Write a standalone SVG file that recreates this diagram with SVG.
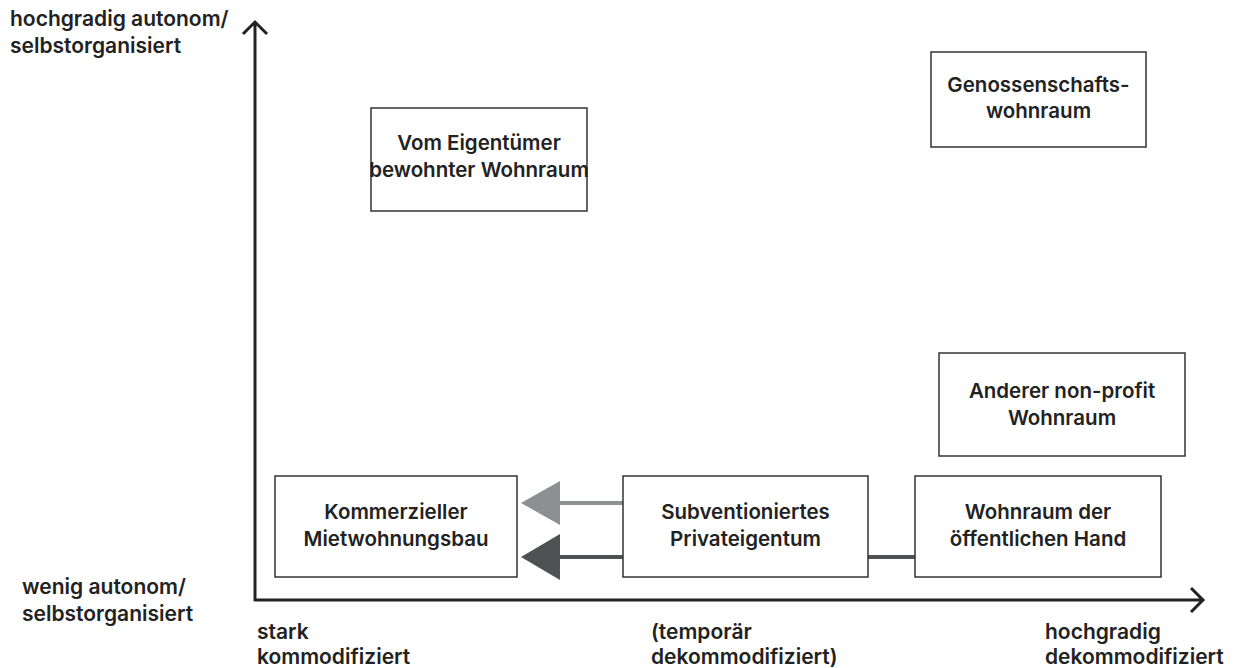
<svg xmlns="http://www.w3.org/2000/svg" width="1236" height="668" viewBox="0 0 1236 668">
<style>
text{font-family:Inter,"Liberation Sans",sans-serif;font-weight:600;font-size:20.5px;fill:#222}
.ax{font-size:21px}
.box{fill:#fff;stroke:#333;stroke-width:1.5}
.c{text-anchor:middle}
.axis{stroke:#222;stroke-width:3;fill:none}
</style>
<defs>
<marker id="hl" viewBox="0 0 39 44" refX="0" refY="22" markerWidth="39" markerHeight="44" markerUnits="userSpaceOnUse" orient="auto"><path d="M0,0 L39,22 L0,44 z" fill="#8c9090"/></marker>
<marker id="hd" viewBox="0 0 39 46" refX="0" refY="23" markerWidth="39" markerHeight="46" markerUnits="userSpaceOnUse" orient="auto"><path d="M0,0 L39,23 L0,46 z" fill="#505153"/></marker>
</defs>
<g id="axes">
<path class="axis" d="M255,601 V22 M243,34 L255,22 L267,34"/>
<path class="axis" d="M254,600 H1203 M1191,588 L1203,600 L1191,612"/>
<text class="ax" x="10" y="26">hochgradig autonom/</text>
<text class="ax" x="10" y="53">selbstorganisiert</text>
<text class="ax" x="22" y="594">wenig autonom/</text>
<text class="ax" x="22" y="621">selbstorganisiert</text>
<text class="ax" x="257" y="639">stark</text>
<text class="ax" x="257" y="664">kommodifiziert</text>
<text class="ax" x="651" y="639">(temporär</text>
<text class="ax" x="651" y="664">dekommodifiziert)</text>
<text class="ax" x="1045" y="639">hochgradig</text>
<text class="ax" x="1045" y="664">dekommodifiziert</text>
</g>
<g id="connectors">
<line x1="623" y1="503" x2="560" y2="503" stroke="#8c9090" stroke-width="4" marker-end="url(#hl)"/>
<line x1="623" y1="557" x2="560" y2="557" stroke="#505153" stroke-width="4" marker-end="url(#hd)"/>
<line x1="868" y1="557" x2="915" y2="557" stroke="#505153" stroke-width="4"/>
</g>
<g id="eigentuemer"><rect class="box" x="371" y="108" width="216" height="103"/><text class="c" x="479" y="150">Vom Eigentümer</text><text class="c" x="479" y="177">bewohnter Wohnraum</text></g>
<g id="genossenschaft"><rect class="box" x="931" y="52" width="215" height="95"/><text class="c" x="1038.5" y="92">Genossenschafts-</text><text class="c" x="1038.5" y="118">wohnraum</text></g>
<g id="nonprofit"><rect class="box" x="939" y="353" width="246" height="103"/><text class="c" x="1062" y="398">Anderer non-profit</text><text class="c" x="1062" y="425">Wohnraum</text></g>
<g id="kommerziell"><rect class="box" x="275" y="476" width="242" height="101"/><text class="c" x="396" y="519">Kommerzieller</text><text class="c" x="396" y="546">Mietwohnungsbau</text></g>
<g id="subventioniert"><rect class="box" x="623" y="476" width="245" height="101"/><text class="c" x="745.5" y="519">Subventioniertes</text><text class="c" x="745.5" y="546">Privateigentum</text></g>
<g id="oeffentlich"><rect class="box" x="915" y="476" width="246" height="101"/><text class="c" x="1038" y="519">Wohnraum der</text><text class="c" x="1038" y="546">öffentlichen Hand</text></g>
</svg>
